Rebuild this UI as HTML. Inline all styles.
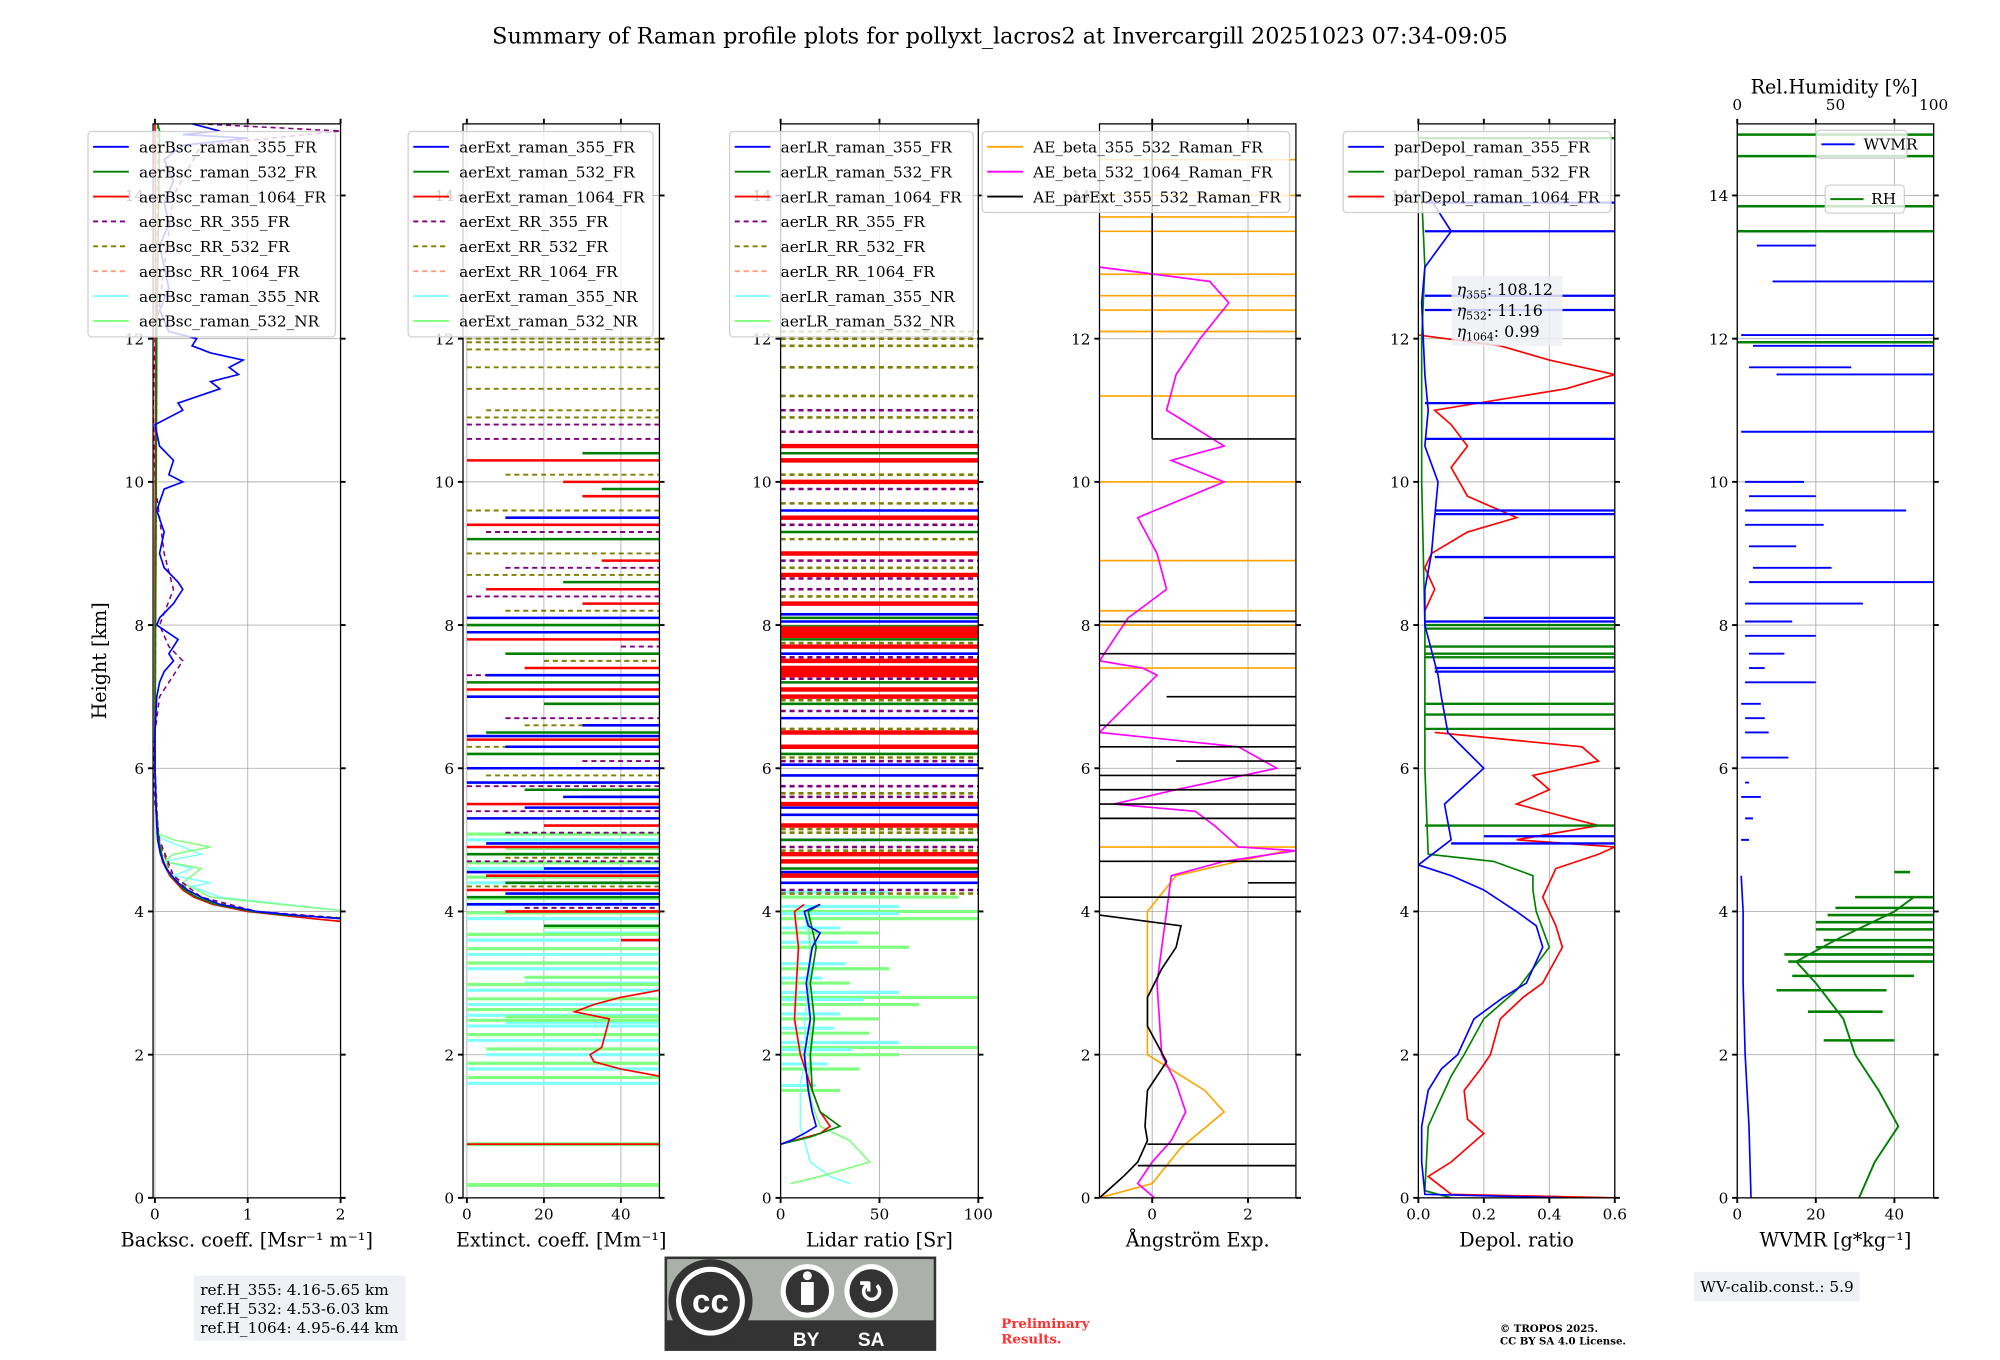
<!DOCTYPE html>
<html><head><meta charset="utf-8"><style>
html,body{margin:0;padding:0;background:#fff;}
svg{display:block;font-family:"DejaVu Serif","Liberation Serif",serif;}
</style></head><body>
<svg id="fig" width="2000" height="1360" viewBox="0 0 1568 1066" xmlns="http://www.w3.org/2000/svg">
<rect width="1568" height="1066" fill="#fff"/>
<text x="784" y="34" font-size="17.5" text-anchor="middle">Summary of Raman profile plots for pollyxt_lacros2 at Invercargill 20251023 07:34-09:05</text>
<g id="plots"></g>
<g>
<rect x="152" y="1000" width="166" height="51" fill="#eef0f5"/>
<text x="157" y="1015" font-size="12">ref.H_355: 4.16-5.65 km</text>
<text x="157" y="1030" font-size="12">ref.H_532: 4.53-6.03 km</text>
<text x="157" y="1045" font-size="12">ref.H_1064: 4.95-6.44 km</text>
</g>
<g>
<rect x="1328" y="997" width="130" height="23" fill="#eef0f5"/>
<text x="1333" y="1013" font-size="12">WV-calib.const.: 5.9</text>
</g>
<g>
<rect x="521" y="985" width="213" height="74" fill="#333"/>
<rect x="523" y="987" width="209" height="48" fill="#abb1aa"/>
<circle cx="557" cy="1020" r="33" fill="#333"/><circle cx="557" cy="1020" r="27" fill="#fff"/><circle cx="557" cy="1020" r="23" fill="#333"/>
<text x="557" y="1029" font-size="26" font-weight="bold" fill="#fff" text-anchor="middle" font-family="Liberation Sans, sans-serif">cc</text>
<circle cx="633" cy="1012" r="21" fill="#fff"/><circle cx="633" cy="1012" r="17" fill="#333"/>
<circle cx="633" cy="1000" r="3.5" fill="#fff"/><rect x="628" y="1005" width="10" height="18" fill="#fff"/>
<circle cx="683" cy="1012" r="21" fill="#fff"/><circle cx="683" cy="1012" r="17" fill="#333"/>
<text x="683" y="1021" font-size="24" font-weight="bold" fill="#fff" text-anchor="middle" font-family="Liberation Sans, sans-serif">↻</text>
<text x="632" y="1055" font-size="15" font-weight="bold" fill="#fff" text-anchor="middle" font-family="Liberation Sans, sans-serif">BY</text>
<text x="683" y="1055" font-size="15" font-weight="bold" fill="#fff" text-anchor="middle" font-family="Liberation Sans, sans-serif">SA</text>
</g>
<text x="785" y="1041" font-size="10.5" font-weight="bold" fill="#ff3030">Preliminary</text>
<text x="785" y="1053" font-size="10.5" font-weight="bold" fill="#ff3030">Results.</text>
<text x="1176" y="1044" font-size="8" font-weight="bold">© TROPOS 2025.</text>
<text x="1176" y="1054" font-size="8" font-weight="bold">CC BY SA 4.0 License.</text>
</svg>
<script>
// ---------- data ----------
const yTicks=[0,2,4,6,8,10,12,14];
const bscTicks=[0,1,2], extTicks=[0,20,40], lrTicks=[0,50,100], aeTicks=[0,2], depTicks=[0.0,0.2,0.4,0.6], wvTicks=[0,20,40], rhTicks=[0,50,100];
// backscatter
const bsc355H=[3.85,3.9,3.95,4.0,4.05,4.1,4.2,4.3,4.4,4.5,4.6,4.8,5.0,5.2,5.6,6.0,6.5,7.0,7.2,7.35,7.5,7.6,7.8,8.0,8.1,8.3,8.5,8.6,8.8,9.0,9.3,9.6,9.9,10.0,10.1,10.3,10.5,10.8,11.0,11.1,11.3,11.4,11.5,11.6,11.7,11.8,11.9,12.0,12.1,12.4,12.7,13.0,13.3,13.6,13.9,14.2,14.5,14.7,14.8,14.85,14.9,15.0];
const bsc355V=[2.1,2.0,1.5,1.1,0.9,0.7,0.5,0.35,0.25,0.18,0.12,0.06,0.03,0.02,0.01,0.0,0.0,0.02,0.05,0.1,0.2,0.15,0.25,0.02,0.05,0.2,0.3,0.25,0.1,0.05,0.1,0.02,0.1,0.3,0.15,0.2,0.05,0.0,0.3,0.25,0.7,0.6,0.9,0.8,0.95,0.6,0.4,0.45,0.15,0.05,0.15,0.1,0.05,0.15,0.1,0.2,0.1,0.3,1.0,0.3,0.7,0.4];
const bsc532H=[3.9,3.95,4.0,4.1,4.2,4.3,4.5,4.7,5.0,5.5,6.0,9.0,12.0,14.9,15.0];
const bsc532V=[2.1,1.4,1.05,0.65,0.45,0.32,0.17,0.09,0.04,0.01,0.0,0.01,0.02,0.05,0.03];
const bsc1064H=[3.85,3.9,4.0,4.1,4.2,4.3,4.5,4.7,5.0,5.5,6.0,9.0,12.0,15.0];
const bsc1064V=[2.1,1.7,1.0,0.62,0.42,0.3,0.16,0.08,0.04,0.01,0.0,0.0,0.01,0.0];
const bscRR355H=[3.9,4.0,4.2,4.5,5.0,5.5,6.0,6.5,7.0,7.2,7.5,7.7,8.0,8.5,9.0,10.0,11.0,12.0,13.0,14.0,14.7,14.9,15.0];
const bscRR355V=[2.1,1.1,0.5,0.2,0.05,0.0,-0.02,0.0,0.05,0.15,0.3,0.15,0.05,0.2,0.1,0.0,-0.02,0.0,0.1,0.2,0.5,2.0,0.5];
const bscRR532H=[3.9,4.0,4.2,4.5,5.0,6.0,9.0,12.0,15.0];
const bscRR532V=[2.1,1.05,0.45,0.18,0.04,0.0,0.01,0.02,0.03];
const bscNR355H=[4.0,4.2,4.35,4.4,4.5,4.6,4.7,4.8,4.9,5.0,5.1];
const bscNR355V=[2.1,0.7,0.4,0.6,0.2,0.4,0.1,0.5,0.3,0.1,0.0];
const bscNR532H=[4.0,4.2,4.4,4.6,4.7,4.8,4.9,5.0,5.1];
const bscNR532V=[2.1,0.6,0.3,0.5,0.1,0.2,0.6,0.2,0.0];
// extinction stripes
const ext355H=[4.1,4.25,4.55,4.6,4.95,5.3,5.45,5.6,5.8,6.0,6.3,6.45,6.6,7.0,7.3,7.9,8.1,9.5];
const ext355X=[0,10,0,20,5,0,15,25,0,0,10,0,30,0,5,0,0,10];
const ext532H=[3.8,4.2,4.4,4.8,5.6,5.7,6.2,6.5,6.9,7.2,7.6,8.0,8.6,9.2,9.9,10.4];
const ext532X=[20,0,10,0,30,15,0,5,20,0,10,0,25,0,35,30];
const ext1064H=[3.6,4.0,4.3,4.5,4.9,5.2,5.5,6.4,7.1,7.4,7.8,8.3,8.5,8.9,9.4,9.8,10.0,10.3];
const ext1064X=[40,10,0,5,0,20,0,0,0,15,0,30,5,35,0,30,25,0];
const extRR355H=[4.05,4.7,5.1,5.4,5.75,6.1,6.7,7.3,7.7,8.4,8.8,9.3,10.6,10.8];
const extRR355X=[15,0,10,0,0,30,10,0,40,0,10,5,0,0];
const extRR532H=[4.35,4.75,5.9,6.3,6.6,7.5,8.2,8.7,9.0,9.6,10.1,10.9,11.0,11.3,11.6,11.85,11.95,12.0];
const extRR532X=[0,10,5,0,15,20,10,0,0,0,10,0,5,0,0,0,0,0];
const extNRH=[1.6,1.8,2.0,2.2,2.4,2.45,2.55,2.7,2.9,3.0,3.2,3.4,3.6,3.7,3.9,4.1,4.4,4.6,4.8,5.0];
const extNRX=[0,0,5,0,0,10,0,0,0,15,0,0,0,20,0,0,0,0,10,0];
const extRedCurveH=[1.7,1.8,1.9,2.0,2.1,2.3,2.5,2.6,2.7,2.8,2.9];
const extRedCurveV=[50,40,33,32,35,36,37,28,33,40,50];
const extFullH=[0.75,0.18];
// lidar ratio
const lr355H=[0.75,0.8,0.9,1.0,1.2,1.5,2.0,2.5,3.0,3.5,3.7,3.8,4.0,4.1];
const lr355V=[0,5,12,18,16,14,12,15,13,16,20,14,12,20];
const lr532H=[0.75,0.85,1.0,1.2,1.5,2.0,2.5,3.0,3.5,4.0,4.1];
const lr532V=[0,15,30,20,16,15,17,15,18,14,20];
const lr1064H=[0.75,0.9,1.0,1.2,1.5,2.0,2.5,3.0,3.5,4.0,4.1];
const lr1064V=[0,20,25,20,16,10,7,8,9,7,12];
const lrNR355H=[0.2,0.3,0.5,0.8,1.0,1.3,1.6,2.0,2.5,3.0,3.5,4.0];
const lrNR355V=[35,25,15,12,10,10,10,13,12,15,15,12];
const lrNR532H=[0.2,0.3,0.5,0.8,1.0,1.3,1.6,2.0,2.5,3.0,3.5,4.0];
const lrNR532V=[5,20,45,35,20,16,14,15,15,14,15,14];
const lrRedH=[4.5,4.7,4.8,5.2,5.5,6.3,6.5,7.0,7.1,7.3,7.35,7.4,7.5,7.7,7.85,7.9,7.95,8.3,8.7,9.0,9.5,10.0,10.3,10.5];
const lrGreenH=[4.6,5.0,6.2,6.9,7.2,7.8,7.98,8.1,9.3,10.4];
const lrBlueH=[4.4,4.55,5.0,5.35,5.45,5.9,6.05,6.7,7.6,8.05,8.15,9.6];
const lrPurpleH=[4.3,4.9,5.2,5.6,5.75,6.1,6.8,7.25,7.55,8.5,8.65,8.9,9.4,9.9,10.7,11.0];
const lrOliveH=[4.25,4.85,5.1,5.15,5.65,6.15,6.5,6.55,6.95,7.75,8.4,8.8,9.2,9.7,10.1,10.9,11.2,11.6,11.9,12.0,12.1];
const lrNRStripeH=[1.5,1.8,2.0,2.1,2.3,2.5,2.7,2.8,3.0,3.2,3.5,3.7,3.9,4.0,4.2];
const lrNRStripeX=[30,40,60,100,45,50,70,100,35,55,65,50,100,100,90];
// Angstrom
const aeMagH=[0,0.2,0.5,0.8,1.2,1.6,2.0,3.0,4.0,4.5,4.7,4.85,4.9,5.2,5.4,5.5,5.7,6.0,6.3,6.5,7.3,7.4,7.5,8.1,8.5,9.0,9.5,10.0,10.3,10.5,11.0,11.5,12.0,12.5,12.8,13.0];
const aeMagV=[0.05,-0.3,0.0,0.4,0.7,0.5,0.2,0.1,0.3,0.4,1.5,3.0,1.8,1.3,0.9,-0.8,0.5,2.6,1.8,-1.1,0.1,-0.2,-1.1,-0.5,0.3,0.1,-0.3,1.5,0.4,1.5,0.3,0.5,1.0,1.6,1.2,-1.1];
const aeOrH=[0,0.2,0.7,1.2,1.5,2.0,3.0,4.0,4.5,4.7,4.85];
const aeOrV=[-1.1,0.0,0.6,1.5,1.1,-0.1,-0.1,-0.1,0.5,1.8,2.8];
const aeOrStripeH=[4.9,7.4,8.0,8.2,8.9,10.0,11.2,12.1,12.4,12.6,12.9,13.5,13.7,14.0,14.5];
const aeBlkH=[0,0.3,0.5,0.8,1.0,1.5,1.9,2.4,2.8,3.2,3.5,3.8,3.95];
const aeBlkV=[-1.1,-0.6,-0.3,-0.1,-0.15,-0.1,0.3,-0.1,-0.1,0.2,0.5,0.6,-1.1];
const aeBlkStripeH=[0.45,0.75,4.2,4.4,4.7,5.3,5.5,5.7,5.9,6.1,6.3,6.6,7.0,7.6,8.05];
const aeBlkStripeX=[-0.3,-0.1,-1.1,2.0,-1.1,-1.1,-1.1,-1.1,-1.1,0.5,-1.1,-1.1,0.3,-1.1,-1.1];
// depol
const dep355H=[0,0.05,0.5,1.0,1.5,1.8,2.0,2.5,2.8,3.0,3.5,3.8,4.0,4.3,4.5,4.65,5.0,5.5,6.0,6.5,7.0,7.3,8.0,8.5,9.0,9.5,10.0,10.5,11.0,11.5,12.5,13.0,13.5,14.0];
const dep355V=[0.45,0.02,0.01,0.01,0.03,0.07,0.12,0.17,0.26,0.33,0.38,0.36,0.3,0.2,0.1,0.0,0.1,0.08,0.2,0.09,0.07,0.06,0.02,0.02,0.04,0.05,0.06,0.02,0.03,0.02,0.01,0.02,0.1,0.03];
const dep355StripeH=[4.95,5.05,7.35,7.4,8.05,8.1,8.95,9.55,9.6,10.6,11.1,12.4,12.6,13.5,13.9];
const dep355StripeX=[0.1,0.2,0.05,0.05,0.02,0.2,0.05,0.05,0.05,0.02,0.02,0.02,0.02,0.02,0.02];
const dep532H=[0,0.1,1.0,1.7,2.0,2.5,2.9,3.5,4.0,4.3,4.5,4.7,4.8,6.0,8.0,10.0,12.0,13.0,14.0];
const dep532V=[0.1,0.02,0.03,0.1,0.14,0.2,0.3,0.4,0.36,0.35,0.35,0.23,0.03,0.02,0.02,0.01,0.01,0.02,0.01];
const dep532StripeH=[5.2,6.55,6.75,6.9,7.55,7.6,7.7,7.95,8.0,14.8];
const dep532StripeX=[0.02,0.02,0.02,0.02,0.02,0.02,0.02,0.02,0.02,0.0];
const dep1064H=[0,0.05,0.3,0.5,0.9,1.1,1.5,1.8,2.0,2.5,2.8,3.0,3.5,3.8,4.2,4.4,4.6,4.8,4.9,5.0,5.2,5.5,5.7,5.9,6.1,6.3,6.5];
const dep1064V=[0.6,0.1,0.03,0.1,0.2,0.15,0.14,0.19,0.22,0.25,0.32,0.38,0.44,0.42,0.38,0.4,0.42,0.55,0.6,0.3,0.55,0.3,0.4,0.35,0.55,0.5,0.05];
const dep1064bH=[8.2,8.5,8.8,9.0,9.3,9.5,9.8,10.2,10.5,10.8,11.0,11.3,11.5,11.7,11.9,12.05];
const dep1064bV=[0.02,0.05,0.02,0.04,0.15,0.3,0.15,0.1,0.15,0.1,0.05,0.45,0.6,0.4,0.25,0.0];
// WVMR / RH
const wvH=[0,1,2,3,4,4.5];
const wvV=[3.5,3,2,1.5,1.5,1];
const wvSegH=[5.0,5.3,5.6,5.8,6.15,6.5,6.7,6.9,7.2,7.4,7.6,7.85,8.05,8.3,8.6,8.8,9.1,9.4,9.6,9.8,10.0,10.7,11.5,11.6,11.9,12.05,12.8,13.3];
const wvSegX0=[1,2,1,2,1,2,2,1,2,3,3,2,2,2,3,4,3,2,2,3,2,1,10,3,4,1,9,5];
const wvSegX1=[3,4,6,3,13,8,7,6,20,7,12,20,14,32,50,24,15,22,43,20,17,50,50,29,50,50,50,20];
const rhH=[0,0.5,1.0,1.5,2.0,2.5,3.0,3.3,3.6,4.0,4.2];
const rhV=[31,35,41,36,30,27,20,15,25,40,45];
const rhStripeH=[2.2,2.6,2.9,3.1,3.3,3.4,3.5,3.6,3.75,3.85,3.95,4.05,4.2,4.55];
const rhStripeX0=[22,18,10,14,13,12,20,22,20,20,23,25,30,40];
const rhStripeX1=[40,37,38,45,50,50,50,50,50,50,50,50,50,44];
const rhFullH=[11.95,13.5,13.85,14.55,14.85];

// ---------- drawing ----------
const NS="http://www.w3.org/2000/svg";
const root=document.getElementById('plots');
const Y0=939, YT=97, HMAX=15;
function y(h){return Y0-(h/HMAX)*(Y0-YT);}
function mk(tag,attrs,parent){const e=document.createElementNS(NS,tag);for(const k in attrs)e.setAttribute(k,attrs[k]);(parent||root).appendChild(e);return e;}
const panels=[
 {id:'bsc',x0:120,x1:267,min:-0.02,max:2.0,ticks:bscTicks,label:'Backsc. coeff. [Msr⁻¹ m⁻¹]'},
 {id:'ext',x0:363,x1:517,min:-1,max:50,ticks:extTicks,label:'Extinct. coeff. [Mm⁻¹]'},
 {id:'lr',x0:612,x1:767,min:0,max:100,ticks:lrTicks,label:'Lidar ratio [Sr]'},
 {id:'ae',x0:862,x1:1016,min:-1.1,max:3.0,ticks:aeTicks,label:'Ångström Exp.'},
 {id:'dep',x0:1112,x1:1266,min:0,max:0.6,ticks:depTicks,label:'Depol. ratio'},
 {id:'wv',x0:1362,x1:1516,min:0,max:50,ticks:wvTicks,label:'WVMR [g*kg⁻¹]'}];
function xf(p,v){return p.x0+(v-p.min)/(p.max-p.min)*(p.x1-p.x0);}
const G={};
panels.forEach(p=>{
 const g=mk('g',{});
 
 
 const cp=mk('clipPath',{id:'c-'+p.id},g);mk('rect',{x:p.x0,y:YT,width:p.x1-p.x0,height:Y0-YT},cp);
 p.ticks.forEach(t=>{const l=mk('line',{x1:xf(p,t),x2:xf(p,t),y1:YT,y2:Y0,stroke:'#b0b0b0','stroke-width':0.7},g);});
 yTicks.forEach(t=>{const l=mk('line',{x1:p.x0,x2:p.x1,y1:y(t),y2:y(t),stroke:'#b0b0b0','stroke-width':0.7},g);});
 p.data=mk('g',{'clip-path':'url(#c-'+p.id+')'},g);
 p.g=g;G[p.id]=p;
});
function line(p,H,V,color,w,dash,name){
 const pts=H.map((h,i)=>xf(p,V[i]).toFixed(1)+','+y(h).toFixed(1)).join(' ');
 const e=mk('polyline',{points:pts,fill:'none',stroke:color,'stroke-width':w||1.2,'stroke-dasharray':dash||'none'},p.data);
 
 
}
function stripes(p,H,X0,X1,color,w,dash,name){
 H.forEach((h,i)=>{const a=X0?X0[i]:p.min, b=X1?X1[i]:p.max;
  const e=mk('line',{x1:xf(p,a),x2:xf(p,b),y1:y(h),y2:y(h),stroke:color,'stroke-width':w||1.5,'stroke-dasharray':dash||'none'},p.data);
  
  
 });
}
const C={b:'#0000ff',g:'#008000',r:'#ff0000',pu:'#800080',ol:'#808000',sa:'#ffa07a',cy:'#80ffff',lg:'#80ff80'};
let P=G.bsc;
line(P,bscNR355H,bscNR355V,C.cy,1.2,null,'bsc-355-nr-line');
line(P,bscNR532H,bscNR532V,C.lg,1.2,null,'bsc-532-nr-line');
line(P,bscRR532H,bscRR532V,C.sa,1.2,'4,3','bsc-rr-1064-line');
line(P,bscRR532H,bscRR532V,C.ol,1.2,'4,3','bsc-rr-532-line');
line(P,bscRR355H,bscRR355V,C.pu,1.2,'4,3','bsc-rr-355-line');
line(P,bsc1064H,bsc1064V,C.r,1.3,null,'bsc-1064-line');
line(P,bsc532H,bsc532V,C.g,1.3,null,'bsc-532-line');
line(P,bsc355H,bsc355V,C.b,1.3,null,'bsc-355-line');
P=G.ext;
stripes(P,extNRH,extNRX,null,C.cy,2.5,null,'ext-nr-355-stripe');
stripes(P,extNRH.map(h=>h+0.08),extNRX,null,C.lg,2.5,null,'ext-nr-532-stripe');
stripes(P,extFullH,[0,0],null,C.lg,3,null,'ext-low-stripe');
stripes(P,[extFullH[0]],[0],null,C.r,1.5,null,'ext-1064-low-stripe');
line(P,extRedCurveH,extRedCurveV,C.r,1.3,null,'ext-1064-curve');
stripes(P,extRR532H,extRR532X,null,C.ol,1.5,'4,3','ext-rr-532-stripe');
stripes(P,extRR355H,extRR355X,null,C.pu,1.5,'4,3','ext-rr-355-stripe');
stripes(P,ext1064H,ext1064X,null,C.r,2,null,'ext-1064-stripe');
stripes(P,ext532H,ext532X,null,C.g,2,null,'ext-532-stripe');
stripes(P,ext355H,ext355X,null,C.b,2,null,'ext-355-stripe');
P=G.lr;
stripes(P,lrNRStripeH,null,lrNRStripeX,C.lg,2.5,null,'lr-nr-stripe');
stripes(P,lrNRStripeH.map(h=>h+0.07),null,lrNRStripeX.map(v=>v*0.6),C.cy,2.5,null,'lr-nr-355-stripe');
line(P,lrNR355H,lrNR355V,C.cy,1.3,null,'lr-355-nr-line');
line(P,lrNR532H,lrNR532V,C.lg,1.3,null,'lr-532-nr-line');
stripes(P,lrOliveH,null,null,C.ol,2,'4,3','lr-rr-532-stripe');
stripes(P,lrPurpleH,null,null,C.pu,2,'4,3','lr-rr-355-stripe');
stripes(P,lrBlueH,null,null,C.b,2,null,'lr-355-stripe');
stripes(P,lrGreenH,null,null,C.g,2,null,'lr-532-stripe');
stripes(P,lrRedH,null,null,C.r,3.5,null,'lr-1064-stripe');
line(P,lr1064H,lr1064V,C.r,1.3,null,'lr-1064-line');
line(P,lr532H,lr532V,C.g,1.3,null,'lr-532-line');
line(P,lr355H,lr355V,C.b,1.3,null,'lr-355-line');
P=G.ae;
stripes(P,aeOrStripeH,null,null,'#ffa500',1.3,null,'ae-beta-355-532-stripe');
line(P,aeOrH,aeOrV,'#ffa500',1.3,null,'ae-beta-355-532-line');
line(P,aeMagH,aeMagV,'#ff00ff',1.3,null,'ae-beta-532-1064-line');
line(P,aeBlkH,aeBlkV,'#000',1.3,null,'ae-parext-line');
stripes(P,aeBlkStripeH,aeBlkStripeX,null,'#000',1.3,null,'ae-parext-stripe');
line(P,[10.6,15],[0,0],'#000',1.3,null,'ae-parext-upper-line');
stripes(P,[10.6],[0],null,'#000',1.3,null,'ae-parext-upper-stripe');
P=G.dep;
line(P,dep1064H,dep1064V,C.r,1.3,null,'depol-1064-line');
line(P,dep1064bH,dep1064bV,C.r,1.3,null,'depol-1064-upper-line');
line(P,dep532H,dep532V,C.g,1.3,null,'depol-532-line');
stripes(P,dep532StripeH,dep532StripeX,null,C.g,1.8,null,'depol-532-stripe');
line(P,dep355H,dep355V,C.b,1.3,null,'depol-355-line');
stripes(P,dep355StripeH,dep355StripeX,null,C.b,1.8,null,'depol-355-stripe');
P=G.wv;
line(P,wvH,wvV,C.b,1.3,null,'wvmr-line');
stripes(P,wvSegH,wvSegX0,wvSegX1,C.b,1.5,null,'wvmr-segment');
line(P,rhH,rhV,C.g,1.5,null,'rh-line');
stripes(P,rhStripeH,rhStripeX0,rhStripeX1,C.g,2,null,'rh-stripe');
stripes(P,rhFullH,null,null,C.g,2,null,'rh-full-stripe');

panels.forEach(p=>{
 const g=p.g;
 const f=mk('rect',{x:p.x0,y:YT,width:p.x1-p.x0,height:Y0-YT,fill:'none',stroke:'#000','stroke-width':1},g);
 
 p.ticks.forEach(t=>{const X=xf(p,t);
  mk('line',{x1:X,x2:X,y1:Y0,y2:Y0+4,stroke:'#000','stroke-width':1.5},g);
  mk('line',{x1:X,x2:X,y1:YT,y2:YT-4,stroke:'#000','stroke-width':1.5},g);
  const tx=mk('text',{x:X,y:Y0+17,'font-size':12,'text-anchor':'middle'},g);
  tx.textContent=(p.id==='dep')?t.toFixed(1):String(t);
  
 });
 yTicks.forEach(t=>{
  mk('line',{x1:p.x0-4,x2:p.x0,y1:y(t),y2:y(t),stroke:'#000','stroke-width':1.5},g);
  mk('line',{x1:p.x1,x2:p.x1+4,y1:y(t),y2:y(t),stroke:'#000','stroke-width':1.5},g);
  const tx=mk('text',{x:p.x0-7,y:y(t)+4.5,'font-size':12,'text-anchor':'end'},g);
  tx.textContent=String(t);
  
 });
 const xl=mk('text',{x:(p.x0+p.x1)/2,y:977,'font-size':15,'text-anchor':'middle'},g);
 xl.textContent=p.label;
 
});
(function(){const p=G.wv;rhTicks.forEach(t=>{const X=p.x0+t/100*(p.x1-p.x0);
 const tx=mk('text',{x:X,y:86,'font-size':12,'text-anchor':'middle'},p.g);tx.textContent=String(t);
 });
 const tt=mk('text',{x:1438,y:73,'font-size':15,'text-anchor':'middle'},p.g);tt.textContent='Rel.Humidity [%]';
 })();
const yl=mk('text',{x:83,y:518,'font-size':15,'text-anchor':'middle',transform:'rotate(-90 83 518)'});
yl.textContent='Height [km]';


function legend(x,y0,w,entries,name){
 const g=mk('g',{});
 
 mk('rect',{x:x,y:y0,width:w,height:entries.length*19.5+5,rx:3,fill:'#fff','fill-opacity':0.8,stroke:'#d0d0d0'},g);
 entries.forEach((e,i)=>{const yy=y0+12+i*19.5;
  mk('line',{x1:x+4,x2:x+32,y1:yy,y2:yy,stroke:e[1],'stroke-width':1.5,'stroke-dasharray':e[2]?'4,3':'none'},g);
  const t=mk('text',{x:x+40,y:yy+4.5,'font-size':12},g);t.textContent=e[0];
  });
}
const sfx=['raman_355_FR','raman_532_FR','raman_1064_FR','RR_355_FR','RR_532_FR','RR_1064_FR','raman_355_NR','raman_532_NR'];
const cols=[C.b,C.g,C.r,C.pu,C.ol,C.sa,C.cy,C.lg];
const dsh=[0,0,0,1,1,1,0,0];
legend(69,103,194,sfx.map((s,i)=>['aerBsc_'+s,cols[i],dsh[i]]),'bsc-legend');
legend(320,103,192,sfx.map((s,i)=>['aerExt_'+s,cols[i],dsh[i]]),'ext-legend');
legend(572,103,191,sfx.map((s,i)=>['aerLR_'+s,cols[i],dsh[i]]),'lr-legend');
legend(770,103,241,[['AE_beta_355_532_Raman_FR','#ffa500'],['AE_beta_532_1064_Raman_FR','#ff00ff'],['AE_parExt_355_532_Raman_FR','#000']],'ae-legend');
legend(1053,103,210,[['parDepol_raman_355_FR',C.b],['parDepol_raman_532_FR',C.g],['parDepol_raman_1064_FR',C.r]],'depol-legend');
(function(){const g=mk('g',{});
 mk('rect',{x:1424,y:102,width:71,height:22,rx:3,fill:'#fff','fill-opacity':0.8,stroke:'#d0d0d0'},g);
 mk('line',{x1:1428,x2:1454,y1:113,y2:113,stroke:C.b,'stroke-width':1.5},g);
 const t=mk('text',{x:1461,y:117,'font-size':12},g);t.textContent='WVMR';
 const g2=mk('g',{});
 mk('rect',{x:1431,y:145,width:62,height:22,rx:3,fill:'#fff','fill-opacity':0.8,stroke:'#d0d0d0'},g2);
 mk('line',{x1:1435,x2:1461,y1:156,y2:156,stroke:C.g,'stroke-width':1.5},g2);
 const t2=mk('text',{x:1467,y:160,'font-size':12},g2);t2.textContent='RH';})();
(function(){const g=mk('g',{});
 mk('rect',{x:1138,y:216,width:87,height:55,fill:'#eef0f5','fill-opacity':0.85},g);
 const vals=[['355','108.12'],['532','11.16'],['1064','0.99']];
 vals.forEach((v,i)=>{const t=mk('text',{x:1142,y:231+i*16.5,'font-size':12.5},g);
  t.innerHTML='<tspan font-style="italic">η</tspan><tspan font-size="8.5" dy="3">'+v[0]+'</tspan><tspan dy="-3">: '+v[1]+'</tspan>';});})();
</script>
</body></html>
